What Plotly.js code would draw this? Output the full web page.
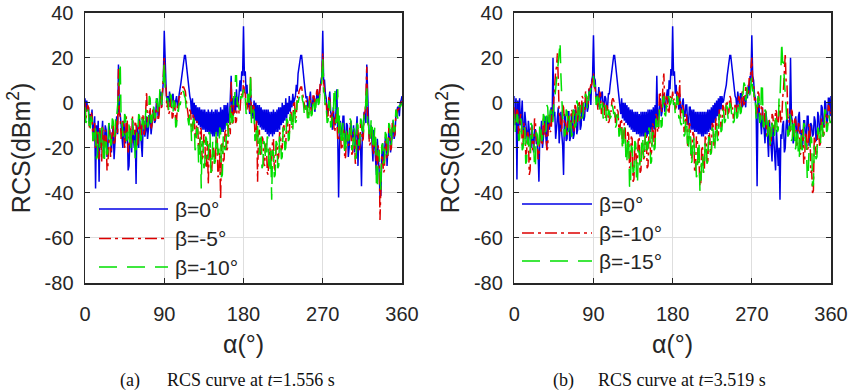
<!DOCTYPE html>
<html>
<head>
<meta charset="utf-8">
<script src="https://cdn.plot.ly/plotly-3.0.1.min.js"></script>
<style>html,body{margin:0;padding:0;background:#fff;}#chart{width:850px;height:391px;}</style>
</head>
<body>
<div id="chart"></div>
<script>
// Incidence angle alpha (degrees), sampled every degree
const alpha = [
  0,1,2,3,4,5,6,7,8,9,10,11,12,13,14,15,16,17,18,19,
  20,21,22,23,24,25,26,27,28,29,30,31,32,33,34,35,36,37,38,39,
  40,41,42,43,44,45,46,47,48,49,50,51,52,53,54,55,56,57,58,59,
  60,61,62,63,64,65,66,67,68,69,70,71,72,73,74,75,76,77,78,79,
  80,81,82,83,84,85,86,87,88,89,90,91,92,93,94,95,96,97,98,99,
  100,101,102,103,104,105,106,107,108,109,110,111,112,113,114,115,116,117,118,119,
  120,121,122,123,124,125,126,127,128,129,130,131,132,133,134,135,136,137,138,139,
  140,141,142,143,144,145,146,147,148,149,150,151,152,153,154,155,156,157,158,159,
  160,161,162,163,164,165,166,167,168,169,170,171,172,173,174,175,176,177,178,179,
  180,181,182,183,184,185,186,187,188,189,190,191,192,193,194,195,196,197,198,199,
  200,201,202,203,204,205,206,207,208,209,210,211,212,213,214,215,216,217,218,219,
  220,221,222,223,224,225,226,227,228,229,230,231,232,233,234,235,236,237,238,239,
  240,241,242,243,244,245,246,247,248,249,250,251,252,253,254,255,256,257,258,259,
  260,261,262,263,264,265,266,267,268,269,270,271,272,273,274,275,276,277,278,279,
  280,281,282,283,284,285,286,287,288,289,290,291,292,293,294,295,296,297,298,299,
  300,301,302,303,304,305,306,307,308,309,310,311,312,313,314,315,316,317,318,319,
  320,321,322,323,324,325,326,327,328,329,330,331,332,333,334,335,336,337,338,339,
  340,341,342,343,344,345,346,347,348,349,350,351,352,353,354,355,356,357,358,359,
  360
];

// (a) t = 1.556 s
const rcsA_beta0 = [
  2,-4,1,-3,-2,-9,-5,-8,-3,-14,-12,-6,-38,-10,-18,-8,-35,-12,-20,-14,
  -8,-22,-18,-10,-12,-24,-20,-9,-12,-16,-22,-14,-9,-25,-16,-11,-6,-14,17,-4,
  -5,-10,-12,-20,-8,-14,-18,-9,-10,-30,-28,-15,-12,-22,-8,-16,-20,-12,-36,-10,
  -14,-20,-7,-12,-18,-24,-10,-8,-15,-12,-6,-16,-12,-8,-4,-14,-10,-3,-2,-9,
  -8,0,2,-6,-5,3,5,-2,8,10,32,12,8,0,3,-2,5,1,-2,3,
  4,-3,-1,2,3,-2,0,4,6,9,12,16,19,21,21,17,14,9,6,3,
  1,-5,2,-7,0,-8,-1,-9,-2,-10,-2,-11,-3,-12,-3,-12,-3,-13,-4,-13,
  -3,-14,-4,-14,-3,-15,-4,-15,-3,-14,-3,-15,-4,-14,-2,-13,-3,-13,-1,-12,
  -1,-10,0,-9,-8,1,12,-6,2,-5,3,-4,6,-2,0,4,10,5,14,12,
  34,12,14,4,8,-2,2,-5,6,-6,-1,-7,1,-8,0,-9,-1,-10,-1,-11,
  -2,-12,-3,-12,-3,-13,-3,-14,-3,-15,-4,-14,-4,-15,-3,-14,-4,-13,-3,-13,
  -2,-12,-2,-10,0,-9,-1,-8,2,-7,0,-5,3,-4,1,-2,4,0,2,3,
  8,5,13,16,19,21,21,18,13,9,6,2,3,-2,-1,4,5,-3,-2,2,
  3,-4,0,2,6,0,4,8,10,12,32,10,10,4,2,-5,-3,1,5,-4,
  -6,-12,-2,-8,-10,-4,6,-14,-42,-20,-8,-14,-14,-6,-6,-18,-18,-9,-10,-24,
  -20,-12,-8,-16,-15,-10,-22,-18,-12,-6,-28,-14,-14,-20,-37,-12,-10,-4,-6,-9,
  17,-3,-8,-16,-14,-10,-20,-26,-12,-18,-25,-32,-16,-22,-30,-41,-41,-24,-18,-26,
  -24,-16,-14,-28,-20,-12,-12,-22,-18,-10,-8,-16,-14,-6,-4,-2,-2,-6,0,1,
  3
];
const rcsA_beta5 = [
  0,-7,-5,-1,-2,-11,-10,-4,-6,-17,-14,-9,-20,-12,-13,-23,-25,-11,-15,-26,
  -10,-18,-22,-12,-14,-30,-28,-16,-12,-24,-20,-9,-10,-19,-17,-12,-8,-14,15,-5,
  -6,-16,-14,-8,-10,-20,-16,-6,-8,-22,-20,-10,-12,-18,-6,-13,-14,-8,-10,-19,
  -18,-10,-8,-16,-14,-5,-6,-15,-12,-3,5,-9,-8,-4,-2,-12,-10,-3,-4,-8,
  -7,-2,0,-8,-6,1,3,-3,6,8,20,9,6,-2,0,-5,-4,1,2,-7,
  -6,1,0,-9,-8,-1,-2,3,2,4,5,7,7,6,5,1,-2,-5,-8,-3,
  -4,-13,-12,-5,-6,-16,-15,-8,-10,-21,-20,-11,-12,-25,-24,-14,-15,-29,-28,-17,
  -36,-19,-18,-31,-30,-21,-20,-27,-26,-15,-16,-33,-32,-22,-43,-19,-18,-26,-25,-13,
  -12,-21,-20,-9,-8,-14,10,-6,-10,-1,-2,-9,-8,1,0,-5,-4,3,4,2,
  10,5,4,-2,-3,3,2,-4,12,-7,-6,-1,-2,-15,-14,-8,-35,-13,-12,-23,
  -22,-15,-16,-27,-28,-19,-18,-31,-32,-21,-20,-28,-26,-17,-16,-29,-30,-19,-18,-25,
  -24,-13,-14,-21,-20,-11,-10,-19,-18,-9,-8,-15,-14,-5,-4,-11,-10,1,0,-7,
  -6,3,2,5,6,7,7,4,2,-1,-3,1,0,-7,-6,3,2,-5,-4,3,
  3,-1,0,5,6,1,2,8,8,12,22,9,6,-1,0,-7,-6,3,2,-9,
  -8,-3,-4,-13,-12,-5,-6,-17,-16,-9,-10,-21,-20,-11,-12,-25,-24,-13,-14,-19,
  -18,-9,-10,-23,-22,-13,-14,-27,-26,-11,-12,-21,-20,-9,-10,-17,-16,-5,-4,2,
  16,-8,-10,-19,-18,-11,-12,-23,-22,-15,-16,-29,-28,-19,-20,-52,-38,-23,-24,-31,
  -30,-17,-18,-25,-24,-11,-12,-21,-20,-9,-10,-15,-14,-5,-6,-3,-3,-2,-1,0,
  2
];
const rcsA_beta10 = [
  -2,-9,-8,-3,-4,-13,-12,-6,-8,-17,-16,-10,-12,-25,-24,-13,-14,-21,-20,-11,
  -12,-27,-26,-15,-16,-23,-22,-9,-10,-19,-18,-7,-8,-15,-14,-5,-6,-2,5,8,
  18,-7,-8,-15,-14,-5,-6,-17,-16,-9,-10,-21,-20,-7,-8,-15,-14,-25,-24,-11,
  -12,-5,-6,-17,-16,-7,-8,-13,-12,-3,-4,-11,-10,3,2,-9,-8,-1,-2,-7,
  -6,2,1,-5,-4,6,5,-1,8,9,18,7,6,1,2,-3,-2,4,3,-5,
  -4,1,0,-11,-10,-3,-4,0,-1,2,3,5,5,3,2,-3,-6,-9,-10,-5,
  -6,-17,-16,-7,-8,-21,-20,-11,-12,-27,-26,-15,-38,-17,-18,-29,-28,-15,-16,-25,
  -24,-13,-14,-31,-30,-17,-18,-27,-26,-13,-14,-23,-22,-11,-12,-33,-32,-15,-16,-21,
  -20,-9,-10,-15,-14,-1,-2,-9,-8,3,2,12,12,-1,0,-3,-2,3,2,4,
  6,1,2,-5,-4,4,3,-1,13,-9,-8,-3,-4,-17,-16,-9,-10,-23,-22,-13,
  -14,-29,-28,-17,-18,-25,-24,-15,-16,-31,-30,-21,-43,-21,-22,-33,-32,-17,-18,-29,
  -28,-15,-16,-25,-24,-11,-12,-21,-20,-7,-8,-17,-16,-5,-6,-13,-12,-1,-2,-9,
  -8,1,0,2,3,5,5,1,0,-5,-6,-1,-2,-9,-8,1,0,-6,-5,1,
  2,-3,-2,3,4,-1,0,5,6,10,20,5,4,-3,-2,-9,-8,1,0,-11,
  -10,-4,-5,7,5,-9,-8,6,-14,-5,-6,-19,-18,-9,-10,-23,-22,-11,-12,-17,
  -16,-7,-8,-21,-20,-11,-12,-25,-24,-9,-10,-19,-18,-7,-8,-15,-14,-5,-6,1,
  8,-9,-10,-17,-16,-7,-8,-21,-20,-11,-12,-38,-38,-21,-22,-30,-39,-19,-18,-27,
  -26,-13,-14,-23,-22,-9,-10,-19,-18,-7,-8,-13,-12,-3,-4,-7,-6,-1,-2,-1,
  0
];

// (b) t = 3.519 s
const rcsB_beta0 = [
  3,-10,2,-34,1,-12,2,-10,-6,1,-12,-14,-4,-8,-14,-18,-8,-12,-18,-20,
  -10,-16,-22,-12,-12,-18,-18,-22,-35,-14,-14,-8,-20,-16,-10,-6,-16,-20,-6,-10,
  -12,-4,-2,-8,20,-6,-4,-16,-10,-3,-2,-18,-8,-4,-14,-19,-32,-5,-6,-17,
  -16,-4,-4,-17,-15,-5,-6,-16,-14,-3,-4,-14,-12,-2,-3,-12,-10,-1,-1,-8,
  -6,1,2,-4,-2,6,5,-1,10,12,30,11,10,2,4,-2,7,3,0,4,
  5,-2,-1,3,2,-3,-2,4,4,8,12,16,19,21,21,17,14,9,5,3,
  0,-5,2,-7,0,-8,0,-9,-1,-10,-2,-11,-3,-12,-3,-13,-4,-13,-4,-14,
  -4,-14,-5,-15,-4,-15,-4,-15,-4,-15,-4,-15,-3,-14,-3,-13,-3,-12,-2,-12,
  -1,-10,12,-8,-6,0,2,-6,-4,1,4,-4,0,3,6,0,10,6,15,12,
  34,12,14,4,8,0,2,-3,4,-4,-4,0,2,-6,-6,-1,-1,-9,-10,-2,
  -2,-12,-3,-12,-3,-13,-4,-13,-4,-14,-4,-14,-4,-15,-4,-15,-4,-14,-4,-14,
  -3,-13,-3,-12,-2,-10,-1,-9,0,-8,1,-6,2,-5,3,-3,3,0,1,4,
  6,8,12,16,19,21,21,17,13,9,6,3,2,-3,5,0,-2,4,4,-2,
  -1,3,2,-2,5,2,8,4,12,10,30,12,10,4,2,-6,-37,-2,0,-8,
  -8,-14,-2,-10,-12,-18,-4,-8,-18,-24,-8,-14,-20,-26,-10,-16,-24,-30,-12,-18,
  -28,-20,-43,-14,-16,-10,-8,-22,-20,-10,-6,-14,-14,-8,20,-6,-8,-18,-16,-8,
  -6,-16,-14,-6,-4,-14,-12,-20,-18,-8,-8,-16,-15,-6,-6,-19,-18,-9,-10,-15,
  -14,-6,-8,-17,-16,-4,-6,-13,-12,-1,-2,-11,-10,1,0,-9,-8,2,2,-6,
  3
];
const rcsB_beta10 = [
  -2,-9,-8,-3,-4,-15,-14,-5,-6,-19,-18,-9,-10,-23,-22,-13,-14,-32,-30,-11,
  -12,-21,-20,-7,-8,-17,-16,-25,-24,-11,-12,-19,-18,-7,-8,-15,-14,-21,-20,-5,
  -6,-13,-12,-3,-4,3,8,14,16,22,10,-5,-6,-13,-12,-1,-2,-9,-8,-15,
  -14,-5,-6,-11,-10,-3,-4,-13,-12,-1,-2,-9,-8,1,0,-7,-6,3,2,-5,
  -4,5,4,-1,0,7,6,8,8,10,13,7,6,1,2,-3,-2,5,4,-5,
  -4,1,0,-7,-6,-1,-2,-9,-8,-3,-4,1,2,1,0,-9,-8,-3,-4,-13,
  -12,-7,-8,-19,-18,-9,-10,-23,-22,-13,-14,-29,-28,-15,-16,-35,-34,-19,-20,-27,
  -26,-15,-16,-31,-30,-17,-18,-25,-24,-13,-14,-29,-28,-15,-16,-23,-22,-9,-10,-19,
  -18,-5,-6,-13,-12,5,4,-3,-4,9,13,-1,-2,3,2,-5,-4,3,2,1,
  5,1,2,-3,-2,5,4,-1,10,-7,-6,-1,-2,-13,-12,-5,-6,-19,-18,-9,
  -10,-25,-24,-13,-14,-31,-30,-15,-16,-27,-26,-37,-36,-19,-20,-31,-30,-15,-16,-27,
  -26,-13,-14,-23,-22,-9,-10,-19,-18,-7,-8,-15,-14,-3,-4,-11,-10,-1,-2,-7,
  -6,1,0,-5,-4,3,2,-3,-2,-7,-6,0,-1,-5,-4,3,2,-4,-3,5,
  4,-1,0,7,6,3,4,11,10,14,20,9,8,1,2,-5,-4,5,4,-7,
  -6,-1,-2,-11,-10,-3,-4,-15,-14,-7,-8,-19,-18,-5,-6,-13,-12,-3,-4,-11,
  -10,-1,-2,-9,-8,2,6,14,22,9,8,-7,-6,-13,-12,-3,-4,-15,-14,-7,
  -8,-19,-18,-9,-10,-23,-22,-11,-12,-27,-26,-13,-14,-21,-20,-9,-10,-31,-30,-40,
  -39,-15,-16,-23,-22,-11,-12,-19,-18,-7,-8,-15,-14,-3,-4,-11,-10,-1,-2,-5,
  -4
];
const rcsB_beta15 = [
  -5,-13,-12,-5,-6,-17,-16,-7,-8,-21,-20,-11,-12,-27,-26,-15,-16,-23,-22,-9,
  -10,-19,-18,-29,-28,-13,-14,-21,-20,-9,-10,-17,-16,-5,-6,-13,-12,-1,-2,-11,
  -10,-3,-4,-9,-8,1,2,7,12,15,18,22,27,12,5,-7,-8,-15,-14,-3,
  -4,-13,-12,-5,-6,-15,-14,-3,-4,-11,-10,1,0,-9,-8,-1,-2,-7,-6,1,
  0,4,3,-3,-2,5,4,7,8,10,12,7,8,-1,0,5,4,-3,-2,2,
  1,-7,-6,-1,-2,-9,-8,-3,-4,-7,-6,-1,-2,-5,-4,-11,-10,-5,-6,-15,
  -14,-9,-10,-21,-20,-11,-12,-27,-26,-15,-16,-37,-38,-19,-20,-31,-30,-17,-18,-35,
  -36,-21,-22,-29,-28,-15,-16,-25,-24,-13,-14,-21,-20,-11,-12,-27,-26,-13,-14,-21,
  -20,-7,-8,-13,-12,-3,-4,-11,-10,2,3,-5,-6,-1,-2,3,2,-1,0,3,
  4,-1,0,-5,-4,3,2,-7,-6,-9,-10,-3,-4,-15,-14,-7,-8,-21,-20,-11,
  -12,-27,-26,-15,-16,-23,-22,-33,-32,-17,-18,-39,-38,-23,-24,-31,-30,-17,-18,-27,
  -26,-15,-16,-23,-22,-11,-12,-21,-20,-9,-10,-17,-16,-5,-6,-13,-12,-3,-4,-9,
  -8,-1,-2,-7,-6,0,-1,-5,-4,-9,-8,-1,-2,-7,-6,1,0,-5,-4,3,
  4,9,8,1,2,7,6,3,4,8,12,5,6,-1,0,-7,-6,3,2,-9,
  -8,9,8,-11,-10,-3,-4,-15,-14,-7,-8,-19,-18,-9,-10,-15,-14,-5,-6,-13,
  -12,3,2,14,27,18,18,10,4,-7,-8,-15,-14,-5,-6,-17,-16,-7,-8,-21,
  -20,-11,-12,-25,-24,-13,-14,-21,-20,-9,-10,-19,-18,-34,-33,-21,-22,-15,-16,-37,
  -36,-19,-20,-25,-24,-11,-12,-19,-18,-7,-8,-15,-14,-3,-4,-13,-12,-5,-6,-9,
  -8
];

const xTicks = [0, 90, 180, 270, 360];
const yTicks = [-80, -60, -40, -20, 0, 20, 40];
const legendA = ['β=0°', 'β=-5°', 'β=-10°'];
const legendB = ['β=0°', 'β=-10°', 'β=-15°'];
const captionA = ['(a)', 'RCS curve at <i>t</i>=1.556 s'];
const captionB = ['(b)', 'RCS curve at <i>t</i>=3.519 s'];

const BLUE = '#0000e6', RED = '#dd0000', GREEN = '#00e000';
const DASHDOT = '12px,4px,3px,4px', DASH = '18px,10px';
const LW = 1.5;

function tr(y, xa, ya, color, dash, name) {
  return {x: alpha, y: y, xaxis: xa, yaxis: ya, type: 'scatter', mode: 'lines',
    name: name, showlegend: false, hoverinfo: 'skip',
    line: {color: color, width: LW, dash: dash}};
}
const data = [
  tr(rcsA_beta0, 'x', 'y', BLUE, 'solid', legendA[0]),
  tr(rcsA_beta5, 'x', 'y', RED, DASHDOT, legendA[1]),
  tr(rcsA_beta10, 'x', 'y', GREEN, DASH, legendA[2]),
  tr(rcsB_beta0, 'x2', 'y2', BLUE, 'solid', legendB[0]),
  tr(rcsB_beta10, 'x2', 'y2', RED, DASHDOT, legendB[1]),
  tr(rcsB_beta15, 'x2', 'y2', GREEN, DASH, legendB[2])
];

const FONT = 'Liberation Sans, Arial, sans-serif';
const INK = '#262626';
function xax(domain, anchor) {
  return {domain: domain, anchor: anchor, range: [0, 360], tickmode: 'array', tickvals: xTicks,
    ticktext: xTicks.map(String), showgrid: true, gridcolor: '#dedede', gridwidth: 1,
    zeroline: false, showline: true, linecolor: INK, linewidth: 1.5, mirror: 'ticks',
    ticks: 'inside', ticklen: 5, tickcolor: INK, tickwidth: 1,
    tickfont: {family: FONT, size: 20, color: INK}, ticklabelstandoff: 12,
    title: {text: 'α(°)', font: {family: FONT, size: 25, color: INK}, standoff: 12},
    automargin: false, fixedrange: true};
}
function yax(anchor) {
  return {domain: [0.2762, 0.9675], anchor: anchor, range: [-80, 40], tickmode: 'array',
    tickvals: yTicks, ticktext: yTicks.map(String), showgrid: true, gridcolor: '#dedede',
    gridwidth: 1, zeroline: false, showline: true, linecolor: INK, linewidth: 1.5,
    mirror: 'ticks', ticks: 'inside', ticklen: 5, tickcolor: INK, tickwidth: 1,
    tickfont: {family: FONT, size: 20, color: INK}, ticklabelstandoff: 6,
    title: {text: 'RCS(dBm<sup>2</sup>)', font: {family: FONT, size: 25, color: INK}, standoff: 7},
    automargin: false, fixedrange: true};
}

const W = 850, H = 391;
const px = v => v / W, py = v => 1 - v / H;
const shapes = [], annotations = [];
function legend(x0, x1, tx, ys, labels) {
  const cols = [BLUE, RED, GREEN], dashes = ['solid', DASHDOT, DASH];
  for (let i = 0; i < 3; i++) {
    shapes.push({type: 'line', xref: 'paper', yref: 'paper', x0: px(x0), x1: px(x1),
      y0: py(ys[i]), y1: py(ys[i]), line: {color: cols[i], width: 1.6, dash: dashes[i]}});
    annotations.push({xref: 'paper', yref: 'paper', x: px(tx), y: py(ys[i]), xanchor: 'left',
      yanchor: 'middle', showarrow: false, text: labels[i],
      font: {family: FONT, size: 21, color: INK}});
  }
}
legend(99, 168, 173, [209, 238.5, 267], legendA);
legend(522, 592, 597, [204, 233, 261], legendB);
function caption(xa, xb, cap) {
  const f = {family: 'Liberation Serif, Times New Roman, serif', size: 18, color: '#111'};
  annotations.push({xref: 'paper', yref: 'paper', x: px(xa), y: py(380), xanchor: 'left',
    yanchor: 'middle', showarrow: false, text: cap[0], font: f});
  annotations.push({xref: 'paper', yref: 'paper', x: px(xb), y: py(380), xanchor: 'left',
    yanchor: 'middle', showarrow: false, text: cap[1], font: f});
}
caption(118, 165, captionA);
caption(551, 596, captionB);

const layout = {
  width: W, height: H, margin: {l: 0, r: 0, t: 0, b: 0},
  paper_bgcolor: '#fff', plot_bgcolor: '#fff', showlegend: false,
  xaxis: xax([85 / W, 402 / W], 'y'), yaxis: yax('x'),
  xaxis2: xax([514.3 / W, 831 / W], 'y2'), yaxis2: yax('x2'),
  shapes: shapes, annotations: annotations
};
Plotly.newPlot('chart', data, layout, {staticPlot: true, displayModeBar: false});
</script>
</body>
</html>
